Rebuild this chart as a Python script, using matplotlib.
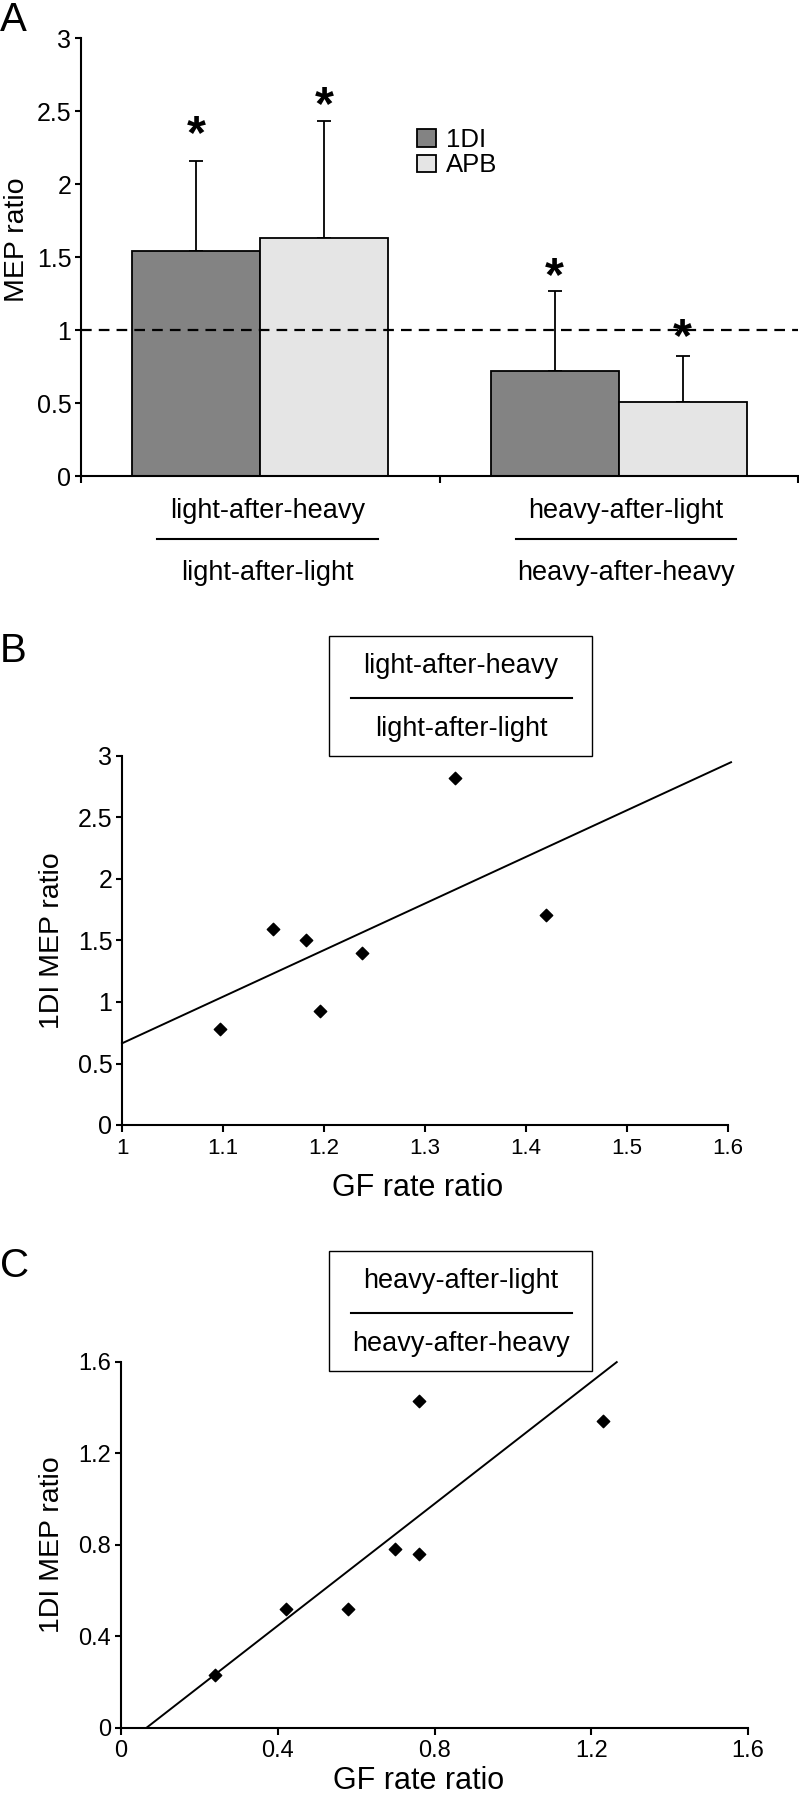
import numpy as np
import matplotlib
matplotlib.use("Agg")
import matplotlib.pyplot as plt
import matplotlib.transforms as mtransforms
from matplotlib.patches import Rectangle
from matplotlib.lines import Line2D

plt.rcParams['font.family'] = ['Liberation Sans', 'DejaVu Sans']

# panel A: MEP ratios per condition
num_labels = ['light-after-heavy', 'heavy-after-light']
den_labels = ['light-after-light', 'heavy-after-heavy']
fdi_mean = [1.54, 0.72]
fdi_err = [0.62, 0.55]
apb_mean = [1.63, 0.51]
apb_err = [0.80, 0.31]
star_fdi = [2.40, 1.43]
star_apb = [2.60, 1.01]

# panel B: light-after-heavy / light-after-light
b_gf = [1.097, 1.150, 1.182, 1.196, 1.238, 1.330, 1.420]
b_mep = [0.78, 1.59, 1.50, 0.93, 1.40, 2.82, 1.71]
b_fit = [3.79, -3.126]      # slope, intercept
b_fit_x = [1.0, 1.603]

# panel C: heavy-after-light / heavy-after-heavy
c_gf = [0.24, 0.42, 0.58, 0.70, 0.76, 0.76, 1.23]
c_mep = [0.23, 0.52, 0.52, 0.78, 0.76, 1.43, 1.34]
c_fit = [1.334, -0.088]
c_fit_x = [0.066, 1.265]

W, H = 799, 1800
fig = plt.figure(figsize=(W / 100, H / 100), dpi=100)


def fy(py):
    return 1 - py / H


def fx(px):
    return px / W


def style_axes(ax, xtick_size, ytick_size):
    for s in ['top', 'right']:
        ax.spines[s].set_visible(False)
    for s in ['left', 'bottom']:
        ax.spines[s].set_linewidth(1.5)
    ax.tick_params(axis='y', direction='out', length=4, width=1.5,
                   labelsize=ytick_size, pad=3)
    ax.tick_params(axis='x', direction='out', length=5, width=1.5,
                   labelsize=xtick_size, pad=4)


# ---------- A ----------
axA = fig.add_axes([fx(81), fy(476), fx(798) - fx(81), fy(38.3) - fy(476)])
x = np.arange(len(fdi_mean))
w = 0.357
axA.bar(x - w / 2, fdi_mean, w, color='#838383', edgecolor='black',
        linewidth=1.3, label='1DI', zorder=2)
axA.bar(x + w / 2, apb_mean, w, color='#e5e5e5', edgecolor='black',
        linewidth=1.3, label='APB', zorder=2)
axA.errorbar(x - w / 2, fdi_mean, yerr=[np.zeros(2), fdi_err], fmt='none',
             ecolor='black', elinewidth=1.3, capsize=5, capthick=1.3, zorder=1)
axA.errorbar(x + w / 2, apb_mean, yerr=[np.zeros(2), apb_err], fmt='none',
             ecolor='black', elinewidth=1.3, capsize=5, capthick=1.3, zorder=1)
axA.axhline(1, color='black', lw=1.6, ls=(0, (4.8, 3.2)), zorder=3,
            clip_on=False)
# asterisk glyph sits high in its box, pull it down onto the data value
star_tr = mtransforms.offset_copy(axA.transData, fig=fig, y=-7, units='points')
for xi, sy in zip(x - w / 2, star_fdi):
    axA.text(xi, sy, '*', ha='center', va='center', fontsize=35,
             fontweight='bold', transform=star_tr)
for xi, sy in zip(x + w / 2, star_apb):
    axA.text(xi, sy, '*', ha='center', va='center', fontsize=35,
             fontweight='bold', transform=star_tr)
axA.set_xlim(-0.5, 1.5)
axA.set_ylim(0, 3)
axA.set_yticks(np.arange(0, 3.01, 0.5))
axA.set_yticklabels(['0', '0.5', '1', '1.5', '2', '2.5', '3'])
axA.set_xticks([-0.5, 0.5, 1.5])
axA.set_xticklabels([])
style_axes(axA, 18, 18)
axA.tick_params(axis='x', length=5)
axA.set_ylabel('MEP ratio', fontsize=20.5, va='center')
axA.yaxis.set_label_coords(-0.089, 0.54)
axA.legend(loc='upper left', bbox_to_anchor=(fx(417), fy(128)),
           bbox_transform=fig.transFigure, frameon=False, fontsize=18.5,
           handlelength=0.74, handleheight=0.66, handletextpad=0.4,
           labelspacing=0.05, borderpad=0, borderaxespad=0)

tr = mtransforms.blended_transform_factory(axA.transData, fig.transFigure)
for xi, top, bot in zip(x, num_labels, den_labels):
    axA.text(xi + 0.02, fy(511), top, transform=tr, ha='center', va='center',
             fontsize=19.5)
    axA.text(xi + 0.02, fy(573), bot, transform=tr, ha='center', va='center',
             fontsize=19.5)
    axA.add_line(Line2D([xi + 0.02 - 0.308, xi + 0.02 + 0.308], [fy(539)] * 2,
                        transform=tr, color='black', lw=1.5, clip_on=False))


def ratio_box(top_px, top, bot):
    box = Rectangle((fx(329), fy(top_px + 120)), fx(592) - fx(329),
                    fy(top_px) - fy(top_px + 120), transform=fig.transFigure,
                    fill=False, edgecolor='black', lw=1.0)
    fig.patches.append(box)
    fig.text(fx(461), fy(top_px + 30), top, ha='center', va='center',
             fontsize=19.5)
    fig.text(fx(461), fy(top_px + 93), bot, ha='center', va='center',
             fontsize=19.5)
    fig.lines.append(Line2D([fx(351), fx(572)], [fy(top_px + 62)] * 2,
                            transform=fig.transFigure, color='black', lw=1.5))


# ---------- B ----------
axB = fig.add_axes([fx(122), fy(1125), fx(728) - fx(122), fy(756) - fy(1125)])
axB.scatter(b_gf, b_mep, marker='D', s=40, color='black', zorder=3)
bx = np.array(b_fit_x)
axB.plot(bx, b_fit[0] * bx + b_fit[1], color='black', lw=1.4, clip_on=False)
axB.set_xlim(1, 1.6)
axB.set_ylim(0, 3)
axB.set_xticks(np.arange(1, 1.61, 0.1))
axB.set_xticklabels(['1', '1.1', '1.2', '1.3', '1.4', '1.5', '1.6'])
axB.set_yticks(np.arange(0, 3.01, 0.5))
axB.set_yticklabels(['0', '0.5', '1', '1.5', '2', '2.5', '3'])
style_axes(axB, 16, 18)
axB.set_xlabel('GF rate ratio', fontsize=22, va='center')
axB.xaxis.set_label_coords(0.488, -0.171)
axB.set_ylabel('1DI MEP ratio', fontsize=20.5, va='center')
axB.yaxis.set_label_coords(-0.115, 0.5)
ratio_box(636, num_labels[0], den_labels[0])

# ---------- C ----------
axC = fig.add_axes([fx(121), fy(1727.5), fx(748) - fx(121),
                    fy(1362) - fy(1727.5)])
axC.scatter(c_gf, c_mep, marker='D', s=40, color='black', zorder=3)
cx = np.array(c_fit_x)
axC.plot(cx, c_fit[0] * cx + c_fit[1], color='black', lw=1.4, clip_on=False)
axC.set_xlim(0, 1.6)
axC.set_ylim(0, 1.6)
axC.set_xticks([0, 0.4, 0.8, 1.2, 1.6])
axC.set_xticklabels(['0', '0.4', '0.8', '1.2', '1.6'])
axC.set_yticks([0, 0.4, 0.8, 1.2, 1.6])
axC.set_yticklabels(['0', '0.4', '0.8', '1.2', '1.6'])
style_axes(axC, 17, 17)
axC.set_xlabel('GF rate ratio', fontsize=22, va='center')
axC.xaxis.set_label_coords(0.474, -0.147)
axC.set_ylabel('1DI MEP ratio', fontsize=20.5, va='center')
axC.yaxis.set_label_coords(-0.110, 0.5)
ratio_box(1251, num_labels[1], den_labels[1])

# panel letters
fig.text(0.0, fy(20), 'A', fontsize=29, va='center', ha='left')
fig.text(0.0, fy(651), 'B', fontsize=29, va='center', ha='left')
fig.text(0.0, fy(1266), 'C', fontsize=29, va='center', ha='left')

fig.savefig('out.png', dpi=100)
